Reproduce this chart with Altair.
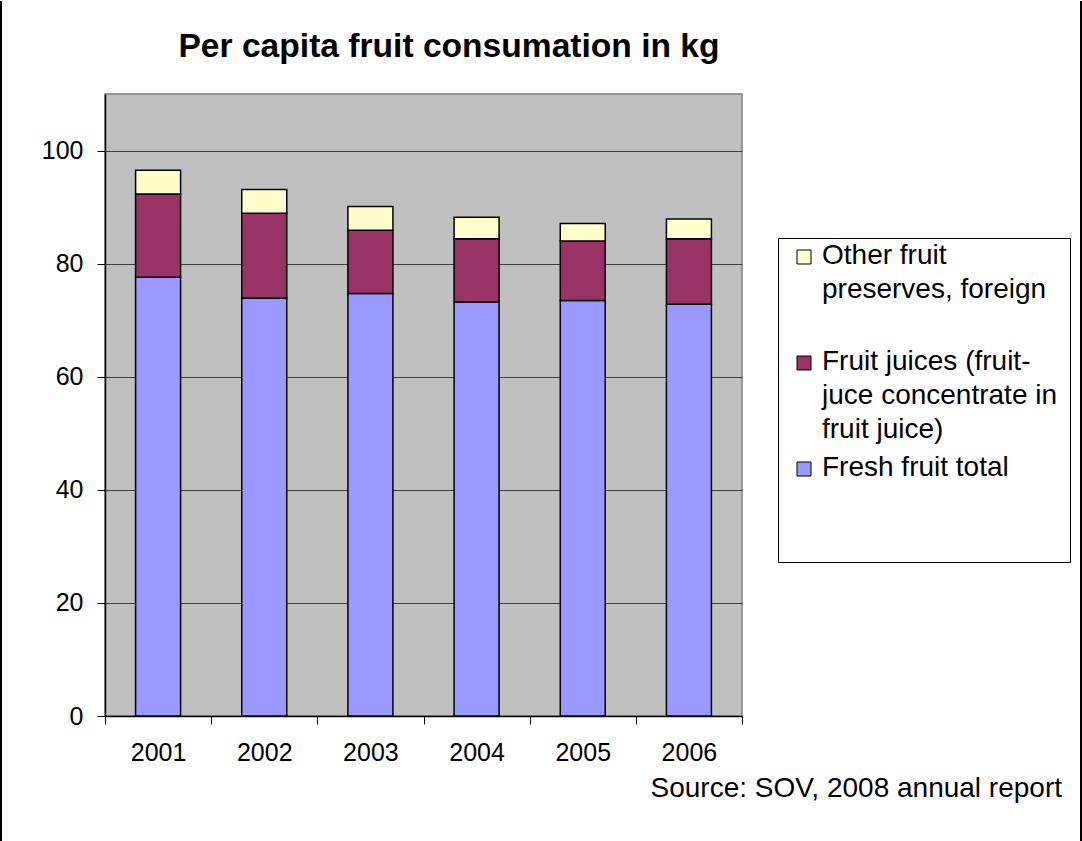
import json
import altair as alt
import pandas as pd

# Per capita fruit consumption (kg) by year, split into three components
years = ["2001", "2002", "2003", "2004", "2005", "2006"]
fresh_fruit = [77.6, 73.9, 74.7, 73.2, 73.5, 72.8]
fruit_juices = [14.7, 15.0, 11.2, 11.2, 10.5, 11.6]
other_preserves = [4.2, 4.2, 4.2, 3.8, 3.1, 3.5]

series_names = [
    "Other fruit preserves, foreign",
    "Fruit juices (fruit-juce concentrate in fruit juice)",
    "Fresh fruit total",
]
series_colors = ["#FFFFCC", "#993366", "#9999FF"]
# wrapped legend text; the last entry keeps the same height as the others
legend_lines = [
    ["Other fruit", "preserves, foreign"],
    ["Fruit juices (fruit-", "juce concentrate in", "fruit juice)"],
    ["Fresh fruit total", "", ""],
]
y_ticks = [0, 20, 40, 60, 80, 100]

title_text = "Per capita fruit consumation in kg"
source_text = "Source: SOV, 2008 annual report"

FONT = "Liberation Sans"

# long table; stack position 0 sits at the bottom of each bar
rows = []
for i, yr in enumerate(years):
    for pos, (name, vals) in enumerate(
        [(series_names[2], fresh_fruit), (series_names[1], fruit_juices), (series_names[0], other_preserves)]
    ):
        rows.append({"year": yr, "series": name, "kg": vals[i], "stack": pos})
df = pd.DataFrame(rows)

label_expr = ""
for name, lines in zip(series_names[:-1], legend_lines[:-1]):
    label_expr += f"datum.label == {json.dumps(name)} ? {json.dumps(lines)} : "
label_expr += json.dumps(legend_lines[-1])

bars = (
    alt.Chart(df)
    .mark_bar(size=45, stroke="black", strokeWidth=1.5)
    .encode(
        x=alt.X(
            "year:N",
            title=None,
            scale=alt.Scale(paddingInner=0, paddingOuter=0),
            axis=alt.Axis(
                tickBand="extent",
                labelAngle=0,
                labelFontSize=25,
                labelFont=FONT,
                labelColor="black",
                labelPadding=16,
                tickSize=8,
                tickColor="black",
                tickWidth=1,
                domainColor="black",
                domainWidth=1.5,
                grid=False,
            ),
        ),
        y=alt.Y(
            "kg:Q",
            title=None,
            stack="zero",
            scale=alt.Scale(domain=[0, 110], nice=False),
            axis=alt.Axis(
                values=y_ticks,
                labelFontSize=25,
                labelFont=FONT,
                labelColor="black",
                labelPadding=14,
                tickSize=8,
                tickColor="black",
                tickWidth=1,
                domainColor="black",
                domainWidth=1.5,
                grid=True,
                gridColor="#404040",
                gridWidth=1,
            ),
        ),
        color=alt.Color(
            "series:N",
            scale=alt.Scale(domain=series_names, range=series_colors),
            legend=alt.Legend(
                title=None,
                orient="none",
                legendX=673,
                legendY=144,
                direction="vertical",
                fillColor="white",
                strokeColor="black",
                padding=12,
                gridAlign="all",
                rowPadding=10,
                labelExpr=label_expr,
                labelFont=FONT,
                labelFontSize=28,
                labelColor="black",
                labelBaseline="alphabetic",
                labelLimit=400,
                labelOffset=4,
                symbolType="M-1,-2L1,-2L1,0L-1,0Z",
                symbolSize=196,
                symbolOffset=0,
                symbolStrokeColor="black",
                symbolStrokeWidth=1,
                symbolOpacity=1,
            ),
        ),
        order=alt.Order("stack:Q", sort="ascending"),
    )
)

title_mark = (
    alt.Chart(pd.DataFrame({"t": [title_text]}))
    .mark_text(font=FONT, fontSize=33.6, fontWeight="bold", align="center", baseline="alphabetic", color="black")
    .encode(text="t:N", x=alt.value(344), y=alt.value(-37))
)

source_mark = (
    alt.Chart(pd.DataFrame({"t": [source_text]}))
    .mark_text(font=FONT, fontSize=28, align="right", baseline="alphabetic", color="black")
    .encode(text="t:N", x=alt.value(957), y=alt.value(703))
)

# side edges of the outer frame
frame_left = (
    alt.Chart(pd.DataFrame({"f": [0]}))
    .mark_rule(color="black", strokeWidth=2)
    .encode(x=alt.value(-104), y=alt.value(-93), y2=alt.value(748))
)
frame_right = (
    alt.Chart(pd.DataFrame({"f": [0]}))
    .mark_rule(color="black", strokeWidth=2)
    .encode(x=alt.value(976), y=alt.value(-93), y2=alt.value(748))
)

chart = (
    alt.layer(bars, title_mark, source_mark, frame_left, frame_right)
    .properties(width=637, height=622, padding=0, background="white")
    .configure(style={"guide-label": {"lineHeight": 34}})
    .configure_view(fill="#C0C0C0", stroke="#808080", strokeWidth=1.5)
)

chart.save("out.html", embed_options={"renderer": "svg", "actions": False})
